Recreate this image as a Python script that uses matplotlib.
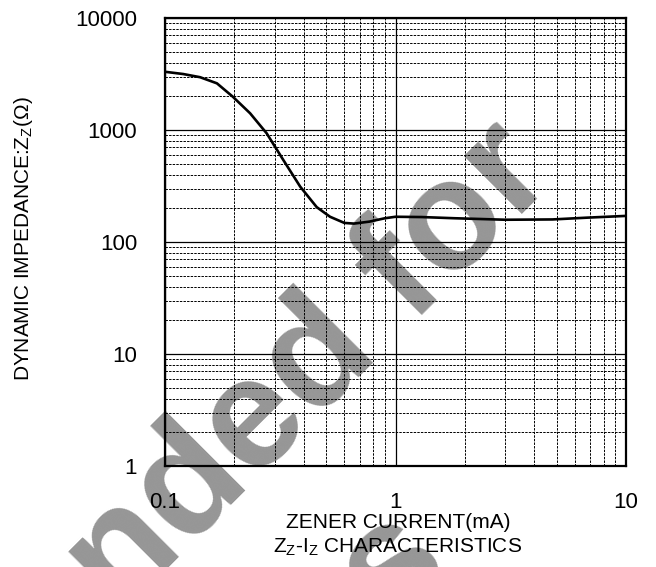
import numpy as np
import matplotlib
matplotlib.use('Agg')
import matplotlib.pyplot as plt
from matplotlib.ticker import FixedLocator, NullFormatter

plt.rcParams['font.family'] = ['Liberation Sans', 'DejaVu Sans']
plt.rcParams['mathtext.fontset'] = 'custom'
plt.rcParams['mathtext.rm'] = 'Liberation Sans'

# Zz - Iz curve
current = [0.1, 0.12, 0.142, 0.168, 0.197, 0.234, 0.276, 0.326, 0.386, 0.455,
           0.52, 0.6, 0.66, 0.77, 0.9, 1.0, 1.3, 1.8, 3.0, 4.8, 6.8, 10]
impedance = [3310, 3160, 2960, 2610, 1980, 1410, 935, 540, 312, 205,
             168, 148, 146, 152, 163, 168, 167, 163, 158, 159, 165, 171]

x_ticks = [0.1, 1, 10]
x_labels = ['0.1', '1', '10']
y_ticks = [1, 10, 100, 1000, 10000]
y_labels = ['1', '10', '100', '1000', '10000']

W, H = 656, 567
fig = plt.figure(figsize=(W / 100, H / 100), dpi=100)
ax = fig.add_axes([165 / W, 1 - 466 / H, (626 - 165) / W, (466 - 18) / H])
ax.set_facecolor('none')

# watermark, two lines, under everything
ang = 45
em = 155.0  # px
ub = np.array([np.cos(np.radians(ang)), -np.sin(np.radians(ang))])   # along baseline (screen px, y down)
up = np.array([-np.sin(np.radians(ang)), -np.cos(np.radians(ang))])  # text "up"
end1 = np.array([558.0, 178.0])
mid2 = end1 + (-10.723 / 2) * em * ub + (-1.29) * em * up
wm = dict(rotation=ang, rotation_mode='anchor', va='baseline',
          fontsize=em * 0.72, fontweight='bold', color='#969696', zorder=-1)
fig.text(end1[0] / W, 1 - end1[1] / H, 'Not Recommended for', ha='right', **wm)
fig.text(mid2[0] / W, 1 - mid2[1] / H, 'New Designs', ha='center', **wm)

ax.plot(current, impedance, color='black', lw=1.9, zorder=3)

ax.set_xscale('log')
ax.set_yscale('log')
ax.set_xlim(0.1, 10)
ax.set_ylim(1, 10000)

ax.set_xticks(x_ticks)
ax.set_xticklabels(x_labels)
ax.set_yticks(y_ticks)
ax.set_yticklabels(y_labels)
minors_x = [m * d for d in (0.1, 1) for m in range(2, 10)]
minors_y = [m * d for d in (1, 10, 100, 1000) for m in range(2, 10)]
ax.xaxis.set_minor_locator(FixedLocator(minors_x))
ax.yaxis.set_minor_locator(FixedLocator(minors_y))
ax.xaxis.set_minor_formatter(NullFormatter())
ax.yaxis.set_minor_formatter(NullFormatter())
ax.tick_params(which='both', length=0)
ax.tick_params(axis='x', labelsize=16, pad=19)
ax.tick_params(axis='y', labelsize=16, pad=20)

ax.grid(which='major', color='black', lw=0.9, ls='-')
ax.grid(which='minor', color='black', lw=0.7, ls=(0, (2.5, 1.2)))
for s in ax.spines.values():
    s.set_linewidth(1.6)

fig.text(23.5 / W, 1 - 239 / H, r'DYNAMIC IMPEDANCE:Z$_\mathrm{Z}$(Ω)', rotation=90,
         ha='center', va='center', fontsize=15)
fig.text(398 / W, 1 - 522 / H, 'ZENER CURRENT(mA)', ha='center', va='center', fontsize=15)
fig.text(398 / W, 1 - 547 / H, r'Z$_\mathrm{Z}$-I$_\mathrm{Z}$ CHARACTERISTICS',
         ha='center', va='center', fontsize=15)

fig.savefig('out.png', dpi=100)
